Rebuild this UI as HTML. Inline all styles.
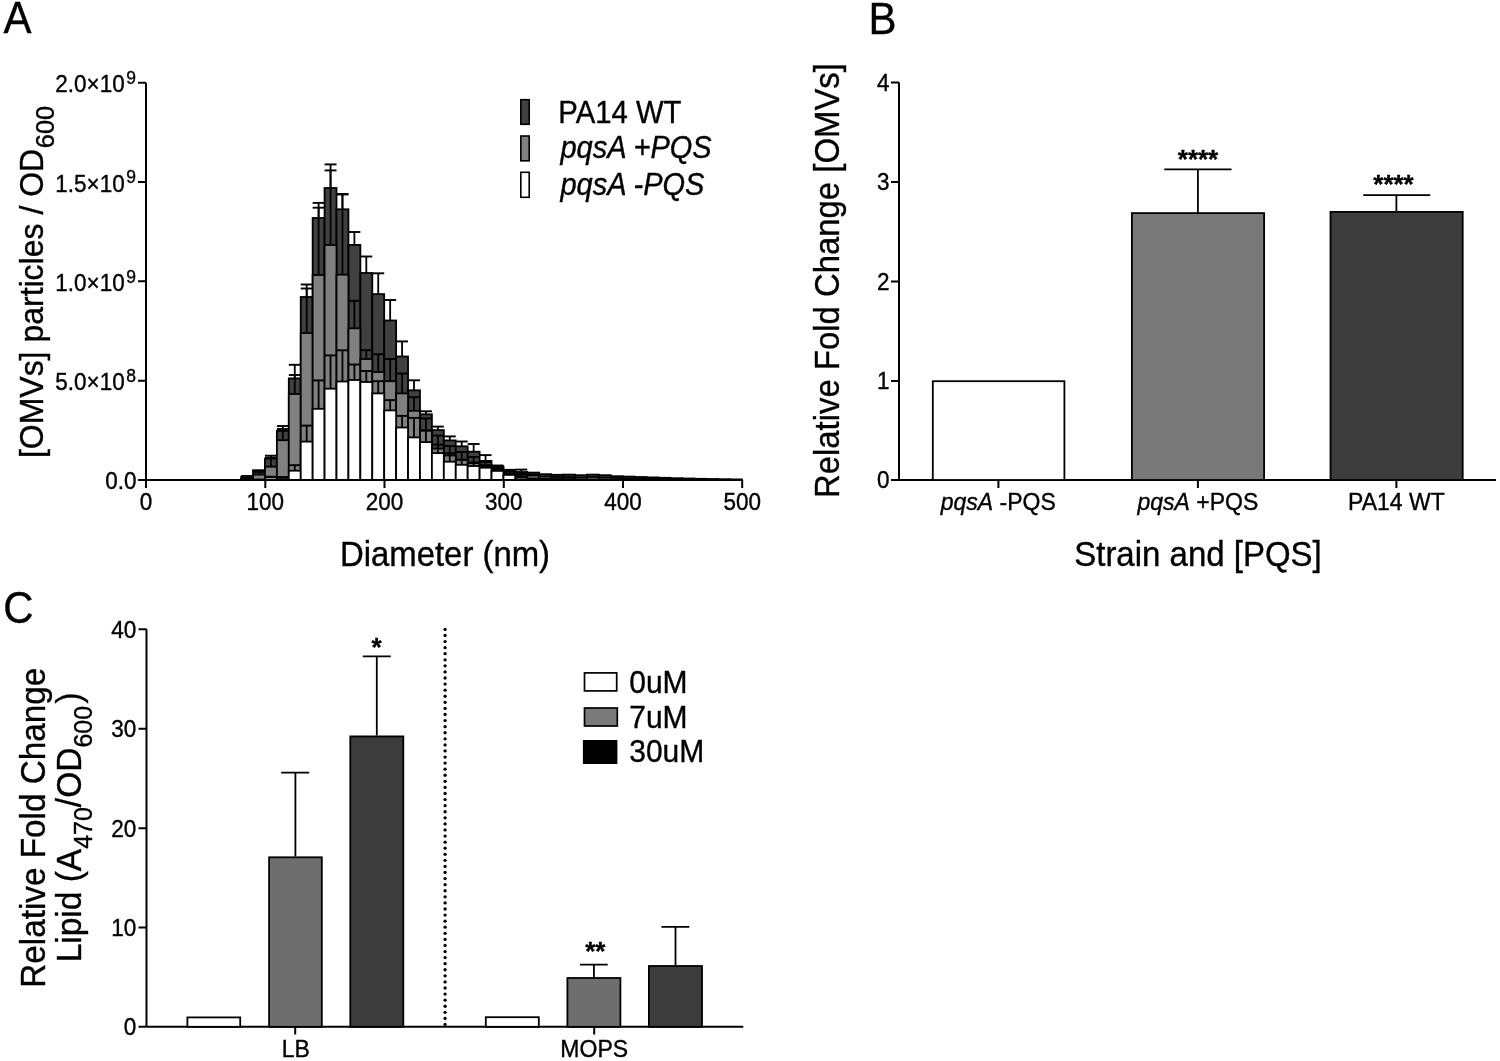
<!DOCTYPE html>
<html><head><meta charset="utf-8"><style>
html,body{margin:0;padding:0;background:#fff;}
svg{display:block;filter:grayscale(1);}
text{font-family:"Liberation Sans",sans-serif;fill:#000;stroke:#000;stroke-width:0.35px;}
</style></head><body>
<svg width="1500" height="1061" viewBox="0 0 1500 1061">
<rect width="1500" height="1061" fill="#fff"/>
<text transform="translate(3.5,33.4) scale(1,1.05)" font-size="42" text-anchor="start" >A</text>
<rect x="241.10" y="477.00" width="11.93" height="3.00" fill="#404040" stroke="#000" stroke-width="1.8"/>
<line x1="247.06" y1="477.00" x2="247.06" y2="476.00" stroke="#000" stroke-width="1.8"/>
<line x1="241.10" y1="476.00" x2="253.03" y2="476.00" stroke="#000" stroke-width="1.9"/>
<rect x="253.02" y="470.20" width="11.93" height="9.80" fill="#404040" stroke="#000" stroke-width="1.8"/>
<rect x="264.95" y="458.60" width="11.93" height="21.40" fill="#404040" stroke="#000" stroke-width="1.8"/>
<line x1="270.91" y1="458.60" x2="270.91" y2="455.70" stroke="#000" stroke-width="1.8"/>
<line x1="264.95" y1="455.70" x2="276.88" y2="455.70" stroke="#000" stroke-width="1.9"/>
<rect x="276.88" y="430.90" width="11.93" height="49.10" fill="#404040" stroke="#000" stroke-width="1.8"/>
<line x1="282.84" y1="430.90" x2="282.84" y2="426.00" stroke="#000" stroke-width="1.8"/>
<line x1="276.88" y1="426.00" x2="288.80" y2="426.00" stroke="#000" stroke-width="1.9"/>
<rect x="288.80" y="378.40" width="11.93" height="101.60" fill="#404040" stroke="#000" stroke-width="1.8"/>
<line x1="294.76" y1="378.40" x2="294.76" y2="364.80" stroke="#000" stroke-width="1.8"/>
<line x1="288.80" y1="364.80" x2="300.73" y2="364.80" stroke="#000" stroke-width="1.9"/>
<rect x="300.73" y="297.00" width="11.93" height="183.00" fill="#404040" stroke="#000" stroke-width="1.8"/>
<line x1="306.69" y1="297.00" x2="306.69" y2="284.50" stroke="#000" stroke-width="1.8"/>
<line x1="300.73" y1="284.50" x2="312.65" y2="284.50" stroke="#000" stroke-width="1.9"/>
<rect x="312.65" y="218.00" width="11.93" height="262.00" fill="#404040" stroke="#000" stroke-width="1.8"/>
<line x1="318.61" y1="218.00" x2="318.61" y2="202.90" stroke="#000" stroke-width="1.8"/>
<line x1="312.65" y1="202.90" x2="324.57" y2="202.90" stroke="#000" stroke-width="1.9"/>
<rect x="324.57" y="188.00" width="11.93" height="292.00" fill="#404040" stroke="#000" stroke-width="1.8"/>
<line x1="330.54" y1="188.00" x2="330.54" y2="164.40" stroke="#000" stroke-width="1.8"/>
<line x1="324.57" y1="164.40" x2="336.50" y2="164.40" stroke="#000" stroke-width="1.9"/>
<rect x="336.50" y="209.30" width="11.93" height="270.70" fill="#404040" stroke="#000" stroke-width="1.8"/>
<line x1="342.46" y1="209.30" x2="342.46" y2="194.00" stroke="#000" stroke-width="1.8"/>
<line x1="336.50" y1="194.00" x2="348.43" y2="194.00" stroke="#000" stroke-width="1.9"/>
<rect x="348.43" y="244.90" width="11.93" height="235.10" fill="#404040" stroke="#000" stroke-width="1.8"/>
<line x1="354.39" y1="244.90" x2="354.39" y2="232.00" stroke="#000" stroke-width="1.8"/>
<line x1="348.43" y1="232.00" x2="360.35" y2="232.00" stroke="#000" stroke-width="1.9"/>
<rect x="360.35" y="273.00" width="11.93" height="207.00" fill="#404040" stroke="#000" stroke-width="1.8"/>
<line x1="366.31" y1="273.00" x2="366.31" y2="256.50" stroke="#000" stroke-width="1.8"/>
<line x1="360.35" y1="256.50" x2="372.28" y2="256.50" stroke="#000" stroke-width="1.9"/>
<rect x="372.27" y="294.10" width="11.93" height="185.90" fill="#404040" stroke="#000" stroke-width="1.8"/>
<line x1="378.24" y1="294.10" x2="378.24" y2="273.30" stroke="#000" stroke-width="1.8"/>
<line x1="372.27" y1="273.30" x2="384.20" y2="273.30" stroke="#000" stroke-width="1.9"/>
<rect x="384.20" y="320.50" width="11.93" height="159.50" fill="#404040" stroke="#000" stroke-width="1.8"/>
<line x1="390.16" y1="320.50" x2="390.16" y2="300.00" stroke="#000" stroke-width="1.8"/>
<line x1="384.20" y1="300.00" x2="396.12" y2="300.00" stroke="#000" stroke-width="1.9"/>
<rect x="396.12" y="356.50" width="11.93" height="123.50" fill="#404040" stroke="#000" stroke-width="1.8"/>
<line x1="402.09" y1="356.50" x2="402.09" y2="341.40" stroke="#000" stroke-width="1.8"/>
<line x1="396.12" y1="341.40" x2="408.05" y2="341.40" stroke="#000" stroke-width="1.9"/>
<rect x="408.05" y="390.30" width="11.93" height="89.70" fill="#404040" stroke="#000" stroke-width="1.8"/>
<line x1="414.01" y1="390.30" x2="414.01" y2="380.30" stroke="#000" stroke-width="1.8"/>
<line x1="408.05" y1="380.30" x2="419.98" y2="380.30" stroke="#000" stroke-width="1.9"/>
<rect x="419.98" y="414.30" width="11.93" height="65.70" fill="#404040" stroke="#000" stroke-width="1.8"/>
<line x1="425.94" y1="414.30" x2="425.94" y2="411.30" stroke="#000" stroke-width="1.8"/>
<line x1="419.98" y1="411.30" x2="431.90" y2="411.30" stroke="#000" stroke-width="1.9"/>
<rect x="431.90" y="430.10" width="11.93" height="49.90" fill="#404040" stroke="#000" stroke-width="1.8"/>
<line x1="437.86" y1="430.10" x2="437.86" y2="426.60" stroke="#000" stroke-width="1.8"/>
<line x1="431.90" y1="426.60" x2="443.83" y2="426.60" stroke="#000" stroke-width="1.9"/>
<rect x="443.82" y="440.40" width="11.93" height="39.60" fill="#404040" stroke="#000" stroke-width="1.8"/>
<line x1="449.79" y1="440.40" x2="449.79" y2="436.40" stroke="#000" stroke-width="1.8"/>
<line x1="443.82" y1="436.40" x2="455.75" y2="436.40" stroke="#000" stroke-width="1.9"/>
<rect x="455.75" y="446.30" width="11.93" height="33.70" fill="#404040" stroke="#000" stroke-width="1.8"/>
<line x1="461.71" y1="446.30" x2="461.71" y2="441.50" stroke="#000" stroke-width="1.8"/>
<line x1="455.75" y1="441.50" x2="467.68" y2="441.50" stroke="#000" stroke-width="1.9"/>
<rect x="467.68" y="451.70" width="11.93" height="28.30" fill="#404040" stroke="#000" stroke-width="1.8"/>
<line x1="473.64" y1="451.70" x2="473.64" y2="444.00" stroke="#000" stroke-width="1.8"/>
<line x1="467.68" y1="444.00" x2="479.60" y2="444.00" stroke="#000" stroke-width="1.9"/>
<rect x="479.60" y="460.90" width="11.93" height="19.10" fill="#404040" stroke="#000" stroke-width="1.8"/>
<line x1="485.56" y1="460.90" x2="485.56" y2="455.10" stroke="#000" stroke-width="1.8"/>
<line x1="479.60" y1="455.10" x2="491.53" y2="455.10" stroke="#000" stroke-width="1.9"/>
<rect x="491.53" y="466.30" width="11.93" height="13.70" fill="#404040" stroke="#000" stroke-width="1.8"/>
<line x1="497.49" y1="466.30" x2="497.49" y2="465.50" stroke="#000" stroke-width="1.8"/>
<line x1="491.53" y1="465.50" x2="503.45" y2="465.50" stroke="#000" stroke-width="1.9"/>
<rect x="503.45" y="469.80" width="11.93" height="10.20" fill="#404040" stroke="#000" stroke-width="1.8"/>
<rect x="515.38" y="472.00" width="11.93" height="8.00" fill="#404040" stroke="#000" stroke-width="1.8"/>
<line x1="521.34" y1="472.00" x2="521.34" y2="469.60" stroke="#000" stroke-width="1.8"/>
<line x1="515.38" y1="469.60" x2="527.30" y2="469.60" stroke="#000" stroke-width="1.9"/>
<rect x="527.30" y="472.60" width="11.93" height="7.40" fill="#404040" stroke="#000" stroke-width="1.8"/>
<rect x="539.23" y="474.20" width="11.93" height="5.80" fill="#404040" stroke="#000" stroke-width="1.8"/>
<rect x="551.15" y="474.80" width="11.93" height="5.20" fill="#404040" stroke="#000" stroke-width="1.8"/>
<rect x="563.08" y="474.60" width="11.93" height="5.40" fill="#404040" stroke="#000" stroke-width="1.8"/>
<rect x="575.00" y="475.20" width="11.93" height="4.80" fill="#404040" stroke="#000" stroke-width="1.8"/>
<rect x="586.92" y="474.60" width="11.93" height="5.40" fill="#404040" stroke="#000" stroke-width="1.8"/>
<rect x="598.85" y="475.20" width="11.93" height="4.80" fill="#404040" stroke="#000" stroke-width="1.8"/>
<rect x="610.78" y="476.20" width="11.93" height="3.80" fill="#404040" stroke="#000" stroke-width="1.8"/>
<rect x="622.70" y="476.60" width="11.93" height="3.40" fill="#404040" stroke="#000" stroke-width="1.8"/>
<rect x="634.62" y="477.00" width="11.93" height="3.00" fill="#404040" stroke="#000" stroke-width="1.8"/>
<rect x="646.55" y="477.40" width="11.93" height="2.60" fill="#404040" stroke="#000" stroke-width="1.8"/>
<rect x="658.47" y="477.80" width="11.93" height="2.20" fill="#404040" stroke="#000" stroke-width="1.8"/>
<rect x="670.40" y="478.20" width="11.93" height="1.80" fill="#404040" stroke="#000" stroke-width="1.8"/>
<rect x="682.33" y="478.50" width="11.93" height="1.50" fill="#404040" stroke="#000" stroke-width="1.8"/>
<rect x="694.25" y="478.80" width="11.93" height="1.20" fill="#404040" stroke="#000" stroke-width="1.8"/>
<rect x="706.17" y="479.00" width="11.93" height="1.00" fill="#404040" stroke="#000" stroke-width="1.8"/>
<rect x="718.10" y="479.20" width="11.93" height="0.80" fill="#404040" stroke="#000" stroke-width="1.8"/>
<rect x="730.03" y="479.40" width="11.93" height="0.60" fill="#404040" stroke="#000" stroke-width="1.8"/>
<rect x="241.10" y="479.00" width="11.93" height="1.00" fill="#808080" stroke="#000" stroke-width="1.8"/>
<line x1="247.06" y1="479.00" x2="247.06" y2="478.00" stroke="#000" stroke-width="1.8"/>
<line x1="241.10" y1="478.00" x2="253.03" y2="478.00" stroke="#000" stroke-width="1.9"/>
<rect x="253.02" y="474.60" width="11.93" height="5.40" fill="#808080" stroke="#000" stroke-width="1.8"/>
<line x1="258.99" y1="474.60" x2="258.99" y2="472.00" stroke="#000" stroke-width="1.8"/>
<line x1="253.02" y1="472.00" x2="264.95" y2="472.00" stroke="#000" stroke-width="1.9"/>
<rect x="264.95" y="466.70" width="11.93" height="13.30" fill="#808080" stroke="#000" stroke-width="1.8"/>
<line x1="270.91" y1="466.70" x2="270.91" y2="457.70" stroke="#000" stroke-width="1.8"/>
<line x1="264.95" y1="457.70" x2="276.88" y2="457.70" stroke="#000" stroke-width="1.9"/>
<rect x="276.88" y="440.20" width="11.93" height="39.80" fill="#808080" stroke="#000" stroke-width="1.8"/>
<line x1="282.84" y1="440.20" x2="282.84" y2="429.00" stroke="#000" stroke-width="1.8"/>
<line x1="276.88" y1="429.00" x2="288.80" y2="429.00" stroke="#000" stroke-width="1.9"/>
<rect x="288.80" y="394.00" width="11.93" height="86.00" fill="#808080" stroke="#000" stroke-width="1.8"/>
<line x1="294.76" y1="394.00" x2="294.76" y2="375.00" stroke="#000" stroke-width="1.8"/>
<line x1="288.80" y1="375.00" x2="300.73" y2="375.00" stroke="#000" stroke-width="1.9"/>
<rect x="300.73" y="333.00" width="11.93" height="147.00" fill="#808080" stroke="#000" stroke-width="1.8"/>
<line x1="306.69" y1="333.00" x2="306.69" y2="288.50" stroke="#000" stroke-width="1.8"/>
<line x1="300.73" y1="288.50" x2="312.65" y2="288.50" stroke="#000" stroke-width="1.9"/>
<rect x="312.65" y="275.00" width="11.93" height="205.00" fill="#808080" stroke="#000" stroke-width="1.8"/>
<line x1="318.61" y1="275.00" x2="318.61" y2="207.70" stroke="#000" stroke-width="1.8"/>
<line x1="312.65" y1="207.70" x2="324.57" y2="207.70" stroke="#000" stroke-width="1.9"/>
<rect x="324.57" y="245.00" width="11.93" height="235.00" fill="#808080" stroke="#000" stroke-width="1.8"/>
<line x1="330.54" y1="245.00" x2="330.54" y2="170.40" stroke="#000" stroke-width="1.8"/>
<line x1="324.57" y1="170.40" x2="336.50" y2="170.40" stroke="#000" stroke-width="1.9"/>
<rect x="336.50" y="274.70" width="11.93" height="205.30" fill="#808080" stroke="#000" stroke-width="1.8"/>
<line x1="342.46" y1="274.70" x2="342.46" y2="194.50" stroke="#000" stroke-width="1.8"/>
<line x1="336.50" y1="194.50" x2="348.43" y2="194.50" stroke="#000" stroke-width="1.9"/>
<rect x="348.43" y="328.30" width="11.93" height="151.70" fill="#808080" stroke="#000" stroke-width="1.8"/>
<line x1="354.39" y1="328.30" x2="354.39" y2="300.80" stroke="#000" stroke-width="1.8"/>
<line x1="348.43" y1="300.80" x2="360.35" y2="300.80" stroke="#000" stroke-width="1.9"/>
<rect x="360.35" y="359.00" width="11.93" height="121.00" fill="#808080" stroke="#000" stroke-width="1.8"/>
<line x1="366.31" y1="359.00" x2="366.31" y2="350.20" stroke="#000" stroke-width="1.8"/>
<line x1="360.35" y1="350.20" x2="372.28" y2="350.20" stroke="#000" stroke-width="1.9"/>
<rect x="372.27" y="372.00" width="11.93" height="108.00" fill="#808080" stroke="#000" stroke-width="1.8"/>
<line x1="378.24" y1="372.00" x2="378.24" y2="354.30" stroke="#000" stroke-width="1.8"/>
<line x1="372.27" y1="354.30" x2="384.20" y2="354.30" stroke="#000" stroke-width="1.9"/>
<rect x="384.20" y="381.20" width="11.93" height="98.80" fill="#808080" stroke="#000" stroke-width="1.8"/>
<line x1="390.16" y1="381.20" x2="390.16" y2="359.00" stroke="#000" stroke-width="1.8"/>
<line x1="384.20" y1="359.00" x2="396.12" y2="359.00" stroke="#000" stroke-width="1.9"/>
<rect x="396.12" y="393.40" width="11.93" height="86.60" fill="#808080" stroke="#000" stroke-width="1.8"/>
<line x1="402.09" y1="393.40" x2="402.09" y2="373.50" stroke="#000" stroke-width="1.8"/>
<line x1="396.12" y1="373.50" x2="408.05" y2="373.50" stroke="#000" stroke-width="1.9"/>
<rect x="408.05" y="410.80" width="11.93" height="69.20" fill="#808080" stroke="#000" stroke-width="1.8"/>
<line x1="414.01" y1="410.80" x2="414.01" y2="397.20" stroke="#000" stroke-width="1.8"/>
<line x1="408.05" y1="397.20" x2="419.98" y2="397.20" stroke="#000" stroke-width="1.9"/>
<rect x="419.98" y="430.50" width="11.93" height="49.50" fill="#808080" stroke="#000" stroke-width="1.8"/>
<line x1="425.94" y1="430.50" x2="425.94" y2="418.40" stroke="#000" stroke-width="1.8"/>
<line x1="419.98" y1="418.40" x2="431.90" y2="418.40" stroke="#000" stroke-width="1.9"/>
<rect x="431.90" y="448.60" width="11.93" height="31.40" fill="#808080" stroke="#000" stroke-width="1.8"/>
<line x1="437.86" y1="448.60" x2="437.86" y2="435.50" stroke="#000" stroke-width="1.8"/>
<line x1="431.90" y1="435.50" x2="443.83" y2="435.50" stroke="#000" stroke-width="1.9"/>
<rect x="443.82" y="455.50" width="11.93" height="24.50" fill="#808080" stroke="#000" stroke-width="1.8"/>
<line x1="449.79" y1="455.50" x2="449.79" y2="446.00" stroke="#000" stroke-width="1.8"/>
<line x1="443.82" y1="446.00" x2="455.75" y2="446.00" stroke="#000" stroke-width="1.9"/>
<rect x="455.75" y="459.80" width="11.93" height="20.20" fill="#808080" stroke="#000" stroke-width="1.8"/>
<line x1="461.71" y1="459.80" x2="461.71" y2="452.00" stroke="#000" stroke-width="1.8"/>
<line x1="455.75" y1="452.00" x2="467.68" y2="452.00" stroke="#000" stroke-width="1.9"/>
<rect x="467.68" y="462.50" width="11.93" height="17.50" fill="#808080" stroke="#000" stroke-width="1.8"/>
<line x1="473.64" y1="462.50" x2="473.64" y2="457.00" stroke="#000" stroke-width="1.8"/>
<line x1="467.68" y1="457.00" x2="479.60" y2="457.00" stroke="#000" stroke-width="1.9"/>
<rect x="479.60" y="465.00" width="11.93" height="15.00" fill="#808080" stroke="#000" stroke-width="1.8"/>
<line x1="485.56" y1="465.00" x2="485.56" y2="462.00" stroke="#000" stroke-width="1.8"/>
<line x1="479.60" y1="462.00" x2="491.53" y2="462.00" stroke="#000" stroke-width="1.9"/>
<rect x="491.53" y="468.50" width="11.93" height="11.50" fill="#808080" stroke="#000" stroke-width="1.8"/>
<line x1="497.49" y1="468.50" x2="497.49" y2="467.00" stroke="#000" stroke-width="1.8"/>
<line x1="491.53" y1="467.00" x2="503.45" y2="467.00" stroke="#000" stroke-width="1.9"/>
<rect x="503.45" y="472.00" width="11.93" height="8.00" fill="#808080" stroke="#000" stroke-width="1.8"/>
<line x1="509.41" y1="472.00" x2="509.41" y2="471.00" stroke="#000" stroke-width="1.8"/>
<line x1="503.45" y1="471.00" x2="515.38" y2="471.00" stroke="#000" stroke-width="1.9"/>
<rect x="515.38" y="475.00" width="11.93" height="5.00" fill="#808080" stroke="#000" stroke-width="1.8"/>
<line x1="521.34" y1="475.00" x2="521.34" y2="473.00" stroke="#000" stroke-width="1.8"/>
<line x1="515.38" y1="473.00" x2="527.30" y2="473.00" stroke="#000" stroke-width="1.9"/>
<rect x="527.30" y="475.50" width="11.93" height="4.50" fill="#808080" stroke="#000" stroke-width="1.8"/>
<line x1="533.26" y1="475.50" x2="533.26" y2="474.50" stroke="#000" stroke-width="1.8"/>
<line x1="527.30" y1="474.50" x2="539.22" y2="474.50" stroke="#000" stroke-width="1.9"/>
<rect x="539.23" y="476.50" width="11.93" height="3.50" fill="#808080" stroke="#000" stroke-width="1.8"/>
<rect x="551.15" y="477.00" width="11.93" height="3.00" fill="#808080" stroke="#000" stroke-width="1.8"/>
<rect x="563.08" y="477.00" width="11.93" height="3.00" fill="#808080" stroke="#000" stroke-width="1.8"/>
<rect x="575.00" y="477.50" width="11.93" height="2.50" fill="#808080" stroke="#000" stroke-width="1.8"/>
<rect x="586.92" y="477.00" width="11.93" height="3.00" fill="#808080" stroke="#000" stroke-width="1.8"/>
<rect x="598.85" y="477.50" width="11.93" height="2.50" fill="#808080" stroke="#000" stroke-width="1.8"/>
<rect x="610.78" y="478.00" width="11.93" height="2.00" fill="#808080" stroke="#000" stroke-width="1.8"/>
<rect x="622.70" y="478.50" width="11.93" height="1.50" fill="#808080" stroke="#000" stroke-width="1.8"/>
<rect x="634.62" y="478.80" width="11.93" height="1.20" fill="#808080" stroke="#000" stroke-width="1.8"/>
<rect x="646.55" y="479.00" width="11.93" height="1.00" fill="#808080" stroke="#000" stroke-width="1.8"/>
<rect x="658.47" y="479.20" width="11.93" height="0.80" fill="#808080" stroke="#000" stroke-width="1.8"/>
<rect x="670.40" y="479.50" width="11.93" height="0.50" fill="#808080" stroke="#000" stroke-width="1.8"/>
<rect x="253.02" y="479.50" width="11.93" height="0.50" fill="#ffffff" stroke="#000" stroke-width="1.8"/>
<rect x="264.95" y="477.50" width="11.93" height="2.50" fill="#ffffff" stroke="#000" stroke-width="1.8"/>
<line x1="270.91" y1="477.50" x2="270.91" y2="476.70" stroke="#000" stroke-width="1.8"/>
<line x1="264.95" y1="476.70" x2="276.88" y2="476.70" stroke="#000" stroke-width="1.9"/>
<rect x="276.88" y="478.00" width="11.93" height="2.00" fill="#ffffff" stroke="#000" stroke-width="1.8"/>
<line x1="282.84" y1="478.00" x2="282.84" y2="477.00" stroke="#000" stroke-width="1.8"/>
<line x1="276.88" y1="477.00" x2="288.80" y2="477.00" stroke="#000" stroke-width="1.9"/>
<rect x="288.80" y="470.70" width="11.93" height="9.30" fill="#ffffff" stroke="#000" stroke-width="1.8"/>
<line x1="294.76" y1="470.70" x2="294.76" y2="465.20" stroke="#000" stroke-width="1.8"/>
<line x1="288.80" y1="465.20" x2="300.73" y2="465.20" stroke="#000" stroke-width="1.9"/>
<rect x="300.73" y="441.60" width="11.93" height="38.40" fill="#ffffff" stroke="#000" stroke-width="1.8"/>
<line x1="306.69" y1="441.60" x2="306.69" y2="425.60" stroke="#000" stroke-width="1.8"/>
<line x1="300.73" y1="425.60" x2="312.65" y2="425.60" stroke="#000" stroke-width="1.9"/>
<rect x="312.65" y="408.80" width="11.93" height="71.20" fill="#ffffff" stroke="#000" stroke-width="1.8"/>
<line x1="318.61" y1="408.80" x2="318.61" y2="380.40" stroke="#000" stroke-width="1.8"/>
<line x1="312.65" y1="380.40" x2="324.57" y2="380.40" stroke="#000" stroke-width="1.9"/>
<rect x="324.57" y="388.70" width="11.93" height="91.30" fill="#ffffff" stroke="#000" stroke-width="1.8"/>
<line x1="330.54" y1="388.70" x2="330.54" y2="355.40" stroke="#000" stroke-width="1.8"/>
<line x1="324.57" y1="355.40" x2="336.50" y2="355.40" stroke="#000" stroke-width="1.9"/>
<rect x="336.50" y="381.50" width="11.93" height="98.50" fill="#ffffff" stroke="#000" stroke-width="1.8"/>
<line x1="342.46" y1="381.50" x2="342.46" y2="350.30" stroke="#000" stroke-width="1.8"/>
<line x1="336.50" y1="350.30" x2="348.43" y2="350.30" stroke="#000" stroke-width="1.9"/>
<rect x="348.43" y="380.00" width="11.93" height="100.00" fill="#ffffff" stroke="#000" stroke-width="1.8"/>
<line x1="354.39" y1="380.00" x2="354.39" y2="364.50" stroke="#000" stroke-width="1.8"/>
<line x1="348.43" y1="364.50" x2="360.35" y2="364.50" stroke="#000" stroke-width="1.9"/>
<rect x="360.35" y="382.00" width="11.93" height="98.00" fill="#ffffff" stroke="#000" stroke-width="1.8"/>
<line x1="366.31" y1="382.00" x2="366.31" y2="371.00" stroke="#000" stroke-width="1.8"/>
<line x1="360.35" y1="371.00" x2="372.28" y2="371.00" stroke="#000" stroke-width="1.9"/>
<rect x="372.27" y="393.40" width="11.93" height="86.60" fill="#ffffff" stroke="#000" stroke-width="1.8"/>
<line x1="378.24" y1="393.40" x2="378.24" y2="381.20" stroke="#000" stroke-width="1.8"/>
<line x1="372.27" y1="381.20" x2="384.20" y2="381.20" stroke="#000" stroke-width="1.9"/>
<rect x="384.20" y="410.40" width="11.93" height="69.60" fill="#ffffff" stroke="#000" stroke-width="1.8"/>
<line x1="390.16" y1="410.40" x2="390.16" y2="400.10" stroke="#000" stroke-width="1.8"/>
<line x1="384.20" y1="400.10" x2="396.12" y2="400.10" stroke="#000" stroke-width="1.9"/>
<rect x="396.12" y="427.50" width="11.93" height="52.50" fill="#ffffff" stroke="#000" stroke-width="1.8"/>
<line x1="402.09" y1="427.50" x2="402.09" y2="415.90" stroke="#000" stroke-width="1.8"/>
<line x1="396.12" y1="415.90" x2="408.05" y2="415.90" stroke="#000" stroke-width="1.9"/>
<rect x="408.05" y="437.40" width="11.93" height="42.60" fill="#ffffff" stroke="#000" stroke-width="1.8"/>
<line x1="414.01" y1="437.40" x2="414.01" y2="417.90" stroke="#000" stroke-width="1.8"/>
<line x1="408.05" y1="417.90" x2="419.98" y2="417.90" stroke="#000" stroke-width="1.9"/>
<rect x="419.98" y="442.10" width="11.93" height="37.90" fill="#ffffff" stroke="#000" stroke-width="1.8"/>
<line x1="425.94" y1="442.10" x2="425.94" y2="430.50" stroke="#000" stroke-width="1.8"/>
<line x1="419.98" y1="430.50" x2="431.90" y2="430.50" stroke="#000" stroke-width="1.9"/>
<rect x="431.90" y="453.10" width="11.93" height="26.90" fill="#ffffff" stroke="#000" stroke-width="1.8"/>
<line x1="437.86" y1="453.10" x2="437.86" y2="444.60" stroke="#000" stroke-width="1.8"/>
<line x1="431.90" y1="444.60" x2="443.83" y2="444.60" stroke="#000" stroke-width="1.9"/>
<rect x="443.82" y="461.70" width="11.93" height="18.30" fill="#ffffff" stroke="#000" stroke-width="1.8"/>
<line x1="449.79" y1="461.70" x2="449.79" y2="453.30" stroke="#000" stroke-width="1.8"/>
<line x1="443.82" y1="453.30" x2="455.75" y2="453.30" stroke="#000" stroke-width="1.9"/>
<rect x="455.75" y="464.80" width="11.93" height="15.20" fill="#ffffff" stroke="#000" stroke-width="1.8"/>
<line x1="461.71" y1="464.80" x2="461.71" y2="459.70" stroke="#000" stroke-width="1.8"/>
<line x1="455.75" y1="459.70" x2="467.68" y2="459.70" stroke="#000" stroke-width="1.9"/>
<rect x="467.68" y="466.00" width="11.93" height="14.00" fill="#ffffff" stroke="#000" stroke-width="1.8"/>
<line x1="473.64" y1="466.00" x2="473.64" y2="463.00" stroke="#000" stroke-width="1.8"/>
<line x1="467.68" y1="463.00" x2="479.60" y2="463.00" stroke="#000" stroke-width="1.9"/>
<rect x="479.60" y="467.70" width="11.93" height="12.30" fill="#ffffff" stroke="#000" stroke-width="1.8"/>
<line x1="485.56" y1="467.70" x2="485.56" y2="466.00" stroke="#000" stroke-width="1.8"/>
<line x1="479.60" y1="466.00" x2="491.53" y2="466.00" stroke="#000" stroke-width="1.9"/>
<rect x="491.53" y="470.90" width="11.93" height="9.10" fill="#ffffff" stroke="#000" stroke-width="1.8"/>
<line x1="497.49" y1="470.90" x2="497.49" y2="469.50" stroke="#000" stroke-width="1.8"/>
<line x1="491.53" y1="469.50" x2="503.45" y2="469.50" stroke="#000" stroke-width="1.9"/>
<rect x="503.45" y="474.90" width="11.93" height="5.10" fill="#ffffff" stroke="#000" stroke-width="1.8"/>
<line x1="509.41" y1="474.90" x2="509.41" y2="474.00" stroke="#000" stroke-width="1.8"/>
<line x1="503.45" y1="474.00" x2="515.38" y2="474.00" stroke="#000" stroke-width="1.9"/>
<rect x="515.38" y="477.80" width="11.93" height="2.20" fill="#ffffff" stroke="#000" stroke-width="1.8"/>
<line x1="521.34" y1="477.80" x2="521.34" y2="477.00" stroke="#000" stroke-width="1.8"/>
<line x1="515.38" y1="477.00" x2="527.30" y2="477.00" stroke="#000" stroke-width="1.9"/>
<rect x="527.30" y="478.50" width="11.93" height="1.50" fill="#ffffff" stroke="#000" stroke-width="1.8"/>
<rect x="539.23" y="478.80" width="11.93" height="1.20" fill="#ffffff" stroke="#000" stroke-width="1.8"/>
<rect x="551.15" y="479.00" width="11.93" height="1.00" fill="#ffffff" stroke="#000" stroke-width="1.8"/>
<rect x="563.08" y="479.00" width="11.93" height="1.00" fill="#ffffff" stroke="#000" stroke-width="1.8"/>
<rect x="575.00" y="479.50" width="11.93" height="0.50" fill="#ffffff" stroke="#000" stroke-width="1.8"/>
<rect x="586.92" y="479.50" width="11.93" height="0.50" fill="#ffffff" stroke="#000" stroke-width="1.8"/>
<rect x="598.85" y="479.50" width="11.93" height="0.50" fill="#ffffff" stroke="#000" stroke-width="1.8"/>
<path d="M146 82.7 V488 M138 82.7 H146 M138 182 H146 M138 281.3 H146 M138 380.7 H146 M138 480 H146" stroke="#000" stroke-width="2" fill="none"/>
<path d="M146 480 H742.2 M265.3 480 V488 M384.5 480 V488 M503.8 480 V488 M623 480 V488 M742.2 480 V488" stroke="#000" stroke-width="2" fill="none"/>
<text transform="translate(124.7,92.3) scale(1,1.09)" font-size="22.5" text-anchor="end" >2.0×10</text>
<text transform="translate(126.3,84.0) scale(1,1.09)" font-size="17.5" text-anchor="start" >9</text>
<text transform="translate(124.7,191.6) scale(1,1.09)" font-size="22.5" text-anchor="end" >1.5×10</text>
<text transform="translate(126.3,183.3) scale(1,1.09)" font-size="17.5" text-anchor="start" >9</text>
<text transform="translate(124.7,290.9) scale(1,1.09)" font-size="22.5" text-anchor="end" >1.0×10</text>
<text transform="translate(126.3,282.6) scale(1,1.09)" font-size="17.5" text-anchor="start" >9</text>
<text transform="translate(124.7,390.3) scale(1,1.09)" font-size="22.5" text-anchor="end" >5.0×10</text>
<text transform="translate(126.3,382.0) scale(1,1.09)" font-size="17.5" text-anchor="start" >8</text>
<text transform="translate(136.5,488.8) scale(1,1.09)" font-size="22.5" text-anchor="end" >0.0</text>
<text transform="translate(146,510.4) scale(1,1.09)" font-size="22.5" text-anchor="middle" >0</text>
<text transform="translate(265.3,510.4) scale(1,1.09)" font-size="22.5" text-anchor="middle" >100</text>
<text transform="translate(384.5,510.4) scale(1,1.09)" font-size="22.5" text-anchor="middle" >200</text>
<text transform="translate(503.8,510.4) scale(1,1.09)" font-size="22.5" text-anchor="middle" >300</text>
<text transform="translate(623,510.4) scale(1,1.09)" font-size="22.5" text-anchor="middle" >400</text>
<text transform="translate(742.2,510.4) scale(1,1.09)" font-size="22.5" text-anchor="middle" >500</text>
<text transform="translate(445,565.7) scale(1,1.05)" font-size="32.9" text-anchor="middle" >Diameter (nm)</text>
<text transform="translate(42.6,282.0) rotate(-90) scale(1,1.05)" font-size="32.0" text-anchor="middle">[OMVs] particles / OD<tspan font-size="25.4" dy="10.8" dx="0.6">600</tspan></text>
<rect x="520.8" y="99.7" width="8.4" height="24.6" fill="#404040" stroke="#000" stroke-width="1.6"/>
<rect x="520.8" y="136" width="8.4" height="24.8" fill="#808080" stroke="#000" stroke-width="1.6"/>
<rect x="520.8" y="172.3" width="8.4" height="25" fill="#fff" stroke="#000" stroke-width="1.6"/>
<text transform="translate(558.3,122.9) scale(1,1.05)" font-size="29.3" text-anchor="start" >PA14 WT</text>
<text transform="translate(560.5,158.4) scale(1,1.05)" font-size="29" text-anchor="start" font-style="italic">pqsA +PQS</text>
<text transform="translate(560.5,195.2) scale(1,1.05)" font-size="29" text-anchor="start" font-style="italic">pqsA -PQS</text>
<text transform="translate(868.5,33.5) scale(1,1.05)" font-size="42" text-anchor="start" >B</text>
<path d="M899 82.6 V480 M891 82.6 H899 M891 182 H899 M891 281.5 H899 M891 381 H899 M891 480 H899" stroke="#000" stroke-width="2" fill="none"/>
<path d="M899 480 H1496 M998.4 480 V488 M1197.9 480 V488 M1396.4 480 V488" stroke="#000" stroke-width="2" fill="none"/>
<text transform="translate(889.5,90.8) scale(1,1.09)" font-size="22.5" text-anchor="end" >4</text>
<text transform="translate(889.5,190.2) scale(1,1.09)" font-size="22.5" text-anchor="end" >3</text>
<text transform="translate(889.5,289.7) scale(1,1.09)" font-size="22.5" text-anchor="end" >2</text>
<text transform="translate(889.5,389.2) scale(1,1.09)" font-size="22.5" text-anchor="end" >1</text>
<text transform="translate(889.5,488.2) scale(1,1.09)" font-size="22.5" text-anchor="end" >0</text>
<rect x="932.8" y="381.2" width="131.6" height="98.8" fill="#fff" stroke="#000" stroke-width="1.8"/>
<rect x="1131.9" y="213.1" width="132.2" height="266.9" fill="#787878" stroke="#000" stroke-width="1.8"/>
<rect x="1330.5" y="211.9" width="132.2" height="268.1" fill="#3d3d3d" stroke="#000" stroke-width="1.8"/>
<path d="M1197.9 213 V169.3 M1164.3 169.3 H1231.5 M1396.4 211.5 V195.2 M1363.2 195.2 H1430.2" stroke="#000" stroke-width="1.8" fill="none"/>
<text transform="translate(1198,167.5) scale(1,1.0)" font-size="26" text-anchor="middle" font-weight="bold">****</text>
<text transform="translate(1393.5,192.8) scale(1,1.0)" font-size="26" text-anchor="middle" font-weight="bold">****</text>
<text transform="translate(998.2,510.4) scale(1,1.05)" font-size="23" text-anchor="middle" ><tspan font-style="italic">pqsA</tspan> -PQS</text>
<text transform="translate(1197.9,510.4) scale(1,1.05)" font-size="23" text-anchor="middle" ><tspan font-style="italic">pqsA</tspan> +PQS</text>
<text transform="translate(1396.4,510.4) scale(1,1.05)" font-size="23" text-anchor="middle" >PA14 WT</text>
<text transform="translate(1198,565.5) scale(1,1.05)" font-size="33" text-anchor="middle" >Strain and [PQS]</text>
<text transform="translate(838.6,280.6) rotate(-90) scale(1,1.05)" font-size="32.9" text-anchor="middle">Relative Fold Change [OMVs]</text>
<text transform="translate(3.3,623) scale(1,1.05)" font-size="42" text-anchor="start" >C</text>
<path d="M146.5 629.2 V1027 M138.5 629.2 H146.5 M138.5 728.7 H146.5 M138.5 828.2 H146.5 M138.5 927.6 H146.5 M138.5 1026.8 H146.5" stroke="#000" stroke-width="2" fill="none"/>
<path d="M146.5 1026.8 H743.3 M295.2 1026.8 V1034.6 M594.2 1026.8 V1034.6" stroke="#000" stroke-width="2" fill="none"/>
<text transform="translate(136.3,637.7) scale(1,1.09)" font-size="22.5" text-anchor="end" >40</text>
<text transform="translate(136.3,737.2) scale(1,1.09)" font-size="22.5" text-anchor="end" >30</text>
<text transform="translate(136.3,836.7) scale(1,1.09)" font-size="22.5" text-anchor="end" >20</text>
<text transform="translate(136.3,936.1) scale(1,1.09)" font-size="22.5" text-anchor="end" >10</text>
<text transform="translate(136.3,1035.3) scale(1,1.09)" font-size="22.5" text-anchor="end" >0</text>
<rect x="187.4" y="1017.4" width="52.8" height="9.4" fill="#fff" stroke="#000" stroke-width="1.8"/>
<rect x="269.1" y="857.3" width="52.7" height="169.5" fill="#6e6e6e" stroke="#000" stroke-width="1.8"/><path d="M295.4 856.4 V772.7 M281.2 772.7 H309.2" stroke="#000" stroke-width="1.8" fill="none"/>
<rect x="350.3" y="736.4" width="53.0" height="290.4" fill="#3c3c3c" stroke="#000" stroke-width="1.8"/><path d="M376.8 735.5 V656.3 M362.8 656.3 H390.8" stroke="#000" stroke-width="1.8" fill="none"/>
<rect x="485.8" y="1017.2" width="53.0" height="9.6" fill="#fff" stroke="#000" stroke-width="1.8"/>
<rect x="567.4" y="978.0" width="53.0" height="48.8" fill="#6e6e6e" stroke="#000" stroke-width="1.8"/><path d="M593.9 977.1 V964.7 M580.0 964.7 H607.7" stroke="#000" stroke-width="1.8" fill="none"/>
<rect x="648.9" y="966.0" width="53.1" height="60.8" fill="#3c3c3c" stroke="#000" stroke-width="1.8"/><path d="M675.5 965.1 V926.8 M661.4 926.8 H689.3" stroke="#000" stroke-width="1.8" fill="none"/>
<text transform="translate(376.6,656) scale(1,1.0)" font-size="26" text-anchor="middle" font-weight="bold">*</text>
<text transform="translate(595.3,960) scale(1,1.0)" font-size="26" text-anchor="middle" font-weight="bold">**</text>
<g fill="#000"><circle cx="445.1" cy="629.40" r="1.65"/><circle cx="445.1" cy="635.48" r="1.65"/><circle cx="445.1" cy="641.56" r="1.65"/><circle cx="445.1" cy="647.63" r="1.65"/><circle cx="445.1" cy="653.71" r="1.65"/><circle cx="445.1" cy="659.79" r="1.65"/><circle cx="445.1" cy="665.87" r="1.65"/><circle cx="445.1" cy="671.95" r="1.65"/><circle cx="445.1" cy="678.02" r="1.65"/><circle cx="445.1" cy="684.10" r="1.65"/><circle cx="445.1" cy="690.18" r="1.65"/><circle cx="445.1" cy="696.26" r="1.65"/><circle cx="445.1" cy="702.34" r="1.65"/><circle cx="445.1" cy="708.41" r="1.65"/><circle cx="445.1" cy="714.49" r="1.65"/><circle cx="445.1" cy="720.57" r="1.65"/><circle cx="445.1" cy="726.65" r="1.65"/><circle cx="445.1" cy="732.73" r="1.65"/><circle cx="445.1" cy="738.80" r="1.65"/><circle cx="445.1" cy="744.88" r="1.65"/><circle cx="445.1" cy="750.96" r="1.65"/><circle cx="445.1" cy="757.04" r="1.65"/><circle cx="445.1" cy="763.12" r="1.65"/><circle cx="445.1" cy="769.19" r="1.65"/><circle cx="445.1" cy="775.27" r="1.65"/><circle cx="445.1" cy="781.35" r="1.65"/><circle cx="445.1" cy="787.43" r="1.65"/><circle cx="445.1" cy="793.51" r="1.65"/><circle cx="445.1" cy="799.58" r="1.65"/><circle cx="445.1" cy="805.66" r="1.65"/><circle cx="445.1" cy="811.74" r="1.65"/><circle cx="445.1" cy="817.82" r="1.65"/><circle cx="445.1" cy="823.90" r="1.65"/><circle cx="445.1" cy="829.97" r="1.65"/><circle cx="445.1" cy="836.05" r="1.65"/><circle cx="445.1" cy="842.13" r="1.65"/><circle cx="445.1" cy="848.21" r="1.65"/><circle cx="445.1" cy="854.29" r="1.65"/><circle cx="445.1" cy="860.36" r="1.65"/><circle cx="445.1" cy="866.44" r="1.65"/><circle cx="445.1" cy="872.52" r="1.65"/><circle cx="445.1" cy="878.60" r="1.65"/><circle cx="445.1" cy="884.68" r="1.65"/><circle cx="445.1" cy="890.75" r="1.65"/><circle cx="445.1" cy="896.83" r="1.65"/><circle cx="445.1" cy="902.91" r="1.65"/><circle cx="445.1" cy="908.99" r="1.65"/><circle cx="445.1" cy="915.07" r="1.65"/><circle cx="445.1" cy="921.14" r="1.65"/><circle cx="445.1" cy="927.22" r="1.65"/><circle cx="445.1" cy="933.30" r="1.65"/><circle cx="445.1" cy="939.38" r="1.65"/><circle cx="445.1" cy="945.46" r="1.65"/><circle cx="445.1" cy="951.53" r="1.65"/><circle cx="445.1" cy="957.61" r="1.65"/><circle cx="445.1" cy="963.69" r="1.65"/><circle cx="445.1" cy="969.77" r="1.65"/><circle cx="445.1" cy="975.85" r="1.65"/><circle cx="445.1" cy="981.92" r="1.65"/><circle cx="445.1" cy="988.00" r="1.65"/><circle cx="445.1" cy="994.08" r="1.65"/><circle cx="445.1" cy="1000.16" r="1.65"/><circle cx="445.1" cy="1006.24" r="1.65"/><circle cx="445.1" cy="1012.31" r="1.65"/><circle cx="445.1" cy="1018.39" r="1.65"/><circle cx="445.1" cy="1024.47" r="1.65"/></g>
<text transform="translate(295.7,1056.8) scale(1,1.05)" font-size="23" text-anchor="middle" >LB</text>
<text transform="translate(594.2,1056.8) scale(1,1.05)" font-size="23" text-anchor="middle" >MOPS</text>
<rect x="584.5" y="672.9" width="32.2" height="18" fill="#fff" stroke="#000" stroke-width="1.7"/>
<rect x="584.5" y="708" width="32.8" height="18" fill="#7a7a7a" stroke="#000" stroke-width="1.7"/>
<rect x="582.9" y="740" width="34.5" height="24" fill="#000"/>
<text transform="translate(629.2,692.8) scale(1,1.05)" font-size="30" text-anchor="start" >0uM</text>
<text transform="translate(629.2,727.6) scale(1,1.05)" font-size="30" text-anchor="start" >7uM</text>
<text transform="translate(629.2,761.8) scale(1,1.05)" font-size="30" text-anchor="start" >30uM</text>
<text transform="translate(44.9,827.7) rotate(-90) scale(1,1.05)" font-size="33.3" text-anchor="middle">Relative Fold Change</text>
<text transform="translate(81.2,827.3) rotate(-90) scale(1,1.05)" font-size="33.5" text-anchor="middle">Lipid (A<tspan font-size="25" dy="10">470</tspan><tspan dy="-10">/OD</tspan><tspan font-size="25" dy="10">600</tspan><tspan dy="-10" dx="2.5">)</tspan></text>
</svg>
</body></html>
